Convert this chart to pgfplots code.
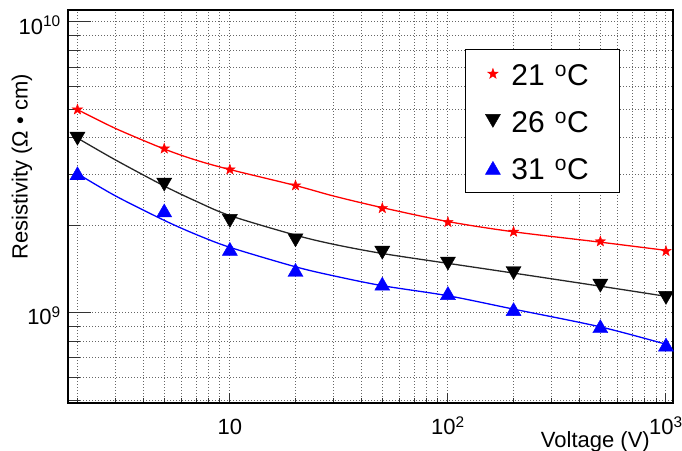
\documentclass[border=0pt]{standalone}
\usepackage{pgfplots}
\pgfplotsset{compat=1.18}
\usepackage{fontspec}
\setmainfont{Liberation Sans}
\pgfdeclareplotmark{fstar}{%
  \pgfpathmoveto{\pgfpointpolar{90}{\pgfplotmarksize}}%
  \pgfpathlineto{\pgfpointpolar{126}{0.4\pgfplotmarksize}}%
  \pgfpathlineto{\pgfpointpolar{162}{\pgfplotmarksize}}%
  \pgfpathlineto{\pgfpointpolar{198}{0.4\pgfplotmarksize}}%
  \pgfpathlineto{\pgfpointpolar{234}{\pgfplotmarksize}}%
  \pgfpathlineto{\pgfpointpolar{270}{0.4\pgfplotmarksize}}%
  \pgfpathlineto{\pgfpointpolar{306}{\pgfplotmarksize}}%
  \pgfpathlineto{\pgfpointpolar{342}{0.4\pgfplotmarksize}}%
  \pgfpathlineto{\pgfpointpolar{18}{\pgfplotmarksize}}%
  \pgfpathlineto{\pgfpointpolar{54}{0.4\pgfplotmarksize}}%
  \pgfpathclose
  \pgfusepathqfillstroke}
\begin{document}
\begin{tikzpicture}
\useasboundingbox (-68bp,-48bp) rectangle (614bp,403bp);
\begin{axis}[
  at={(0,0)}, anchor=south west,
  scale only axis, width=605bp, height=393bp,
  xmode=log, ymode=log,
  xmin=1.81, xmax=1077, ymin=4.9e8, ymax=1.1e10,
  axis line style={line width=1.2bp},
  tick align=inside,
  xtick pos=bottom, ytick pos=left,
  xtick={10,100,1000},
  xticklabels={10,10\textsuperscript{2},10\textsuperscript{3}},
  minor xtick={2,3,4,5,6,7,8,9,20,30,40,50,60,70,80,90,200,300,400,500,600,700,800,900},
  ytick={1e9,1e10},
  yticklabels={10\textsuperscript{9},10\textsuperscript{10}},
  minor ytick={5e8,6e8,7e8,8e8,9e8,2e9,3e9,4e9,5e9,6e9,7e9,8e9,9e9},
  major tick length=10bp, minor tick length=5bp,
  y tick style={/pgfplots/major tick length=23bp,/pgfplots/minor tick length=12bp},
  tick style={line width=1bp, black!80},
  xmajorgrids, ymajorgrids, xminorgrids, yminorgrids,
  major grid style={dash pattern=on 1bp off 2bp, black!60, line width=1bp},
  minor grid style={dash pattern=on 1bp off 2bp, black!60, line width=1bp},
  tick label style={font=\fontsize{22bp}{26bp}\selectfont},
  xticklabel style={anchor=base, inner sep=0pt, yshift=-32bp},
  yticklabel style={anchor=east, inner sep=0pt, xshift=-7bp, yshift=-3bp},
  xlabel={Voltage (V)},
  ylabel={Resistivity (Ω • cm)},
  every axis x label/.style={at={(axis description cs:0.962,0)}, anchor=base east, inner sep=0pt, yshift=-44.5bp, font=\fontsize{22bp}{26bp}\selectfont},
  every axis y label/.style={at={(axis description cs:-0.076,0.601)}, anchor=center, rotate=90, inner sep=0pt, font=\fontsize{22bp}{26bp}\selectfont},
  legend style={at={(axis description cs:0.656,0.901)}, anchor=north west, draw=black, line width=1bp,
    font=\fontsize{30bp}{34bp}\selectfont, inner xsep=20bp, inner ysep=7bp, row sep=12bp,
    nodes={inner xsep=0pt, inner ysep=6bp, text width=99bp, align=left, text height=23bp, text depth=0bp}},
  legend cell align=left,
]
% fit curves
\addplot[red, line width=1.3bp, smooth, forget plot] coordinates {(2,5.0e9)(3,4.30e9)(5,3.66e9)(7,3.35e9)(10,3.11e9)(20,2.74e9)(30,2.52e9)(50,2.30e9)(100,2.06e9)(200,1.90e9)(500,1.75e9)(1000,1.64e9)};
\addplot[black!85, line width=1.3bp, smooth, forget plot] coordinates {(2,3.99e9)(3,3.35e9)(5,2.73e9)(7,2.42e9)(10,2.16e9)(20,1.85e9)(30,1.72e9)(50,1.60e9)(100,1.48e9)(200,1.37e9)(500,1.235e9)(1000,1.14e9)};
\addplot[blue, line width=1.3bp, smooth, forget plot] coordinates {(2,3.01e9)(3,2.52e9)(5,2.08e9)(7,1.86e9)(10,1.68e9)(20,1.44e9)(30,1.34e9)(50,1.24e9)(100,1.145e9)(200,1.03e9)(500,0.895e9)(1000,0.78e9)};
% data points
\addplot[only marks, mark=fstar, mark size=5.5bp, red, mark options={fill=red, draw=red, line width=0.4bp}] coordinates {(2,5.0e9)(5,3.67e9)(10,3.11e9)(20,2.74e9)(50,2.29e9)(100,2.05e9)(200,1.90e9)(500,1.76e9)(1000,1.63e9)};
\addlegendentry{\hspace*{11bp}21 \textsuperscript{o}C}
\addplot[only marks, mark=triangle*, mark size=8.7bp, black, mark options={fill=black, draw=black, line width=0.4bp, yshift=2.2bp, rotate=180}] coordinates {(2,3.97e9)(5,2.76e9)(10,2.07e9)(20,1.776e9)(50,1.61e9)(100,1.477e9)(200,1.37e9)(500,1.24e9)(1000,1.126e9)};
\addlegendentry{\hspace*{11bp}26 \textsuperscript{o}C}
\addplot[only marks, mark=triangle*, mark size=8.7bp, blue, mark options={fill=blue, draw=blue, line width=0.4bp, yshift=-2.2bp}] coordinates {(2,3.02e9)(5,2.25e9)(10,1.66e9)(20,1.405e9)(50,1.26e9)(100,1.17e9)(200,1.03e9)(500,0.90e9)(1000,0.778e9)};
\addlegendentry{\hspace*{11bp}31 \textsuperscript{o}C}
\end{axis}
\end{tikzpicture}
\end{document}
